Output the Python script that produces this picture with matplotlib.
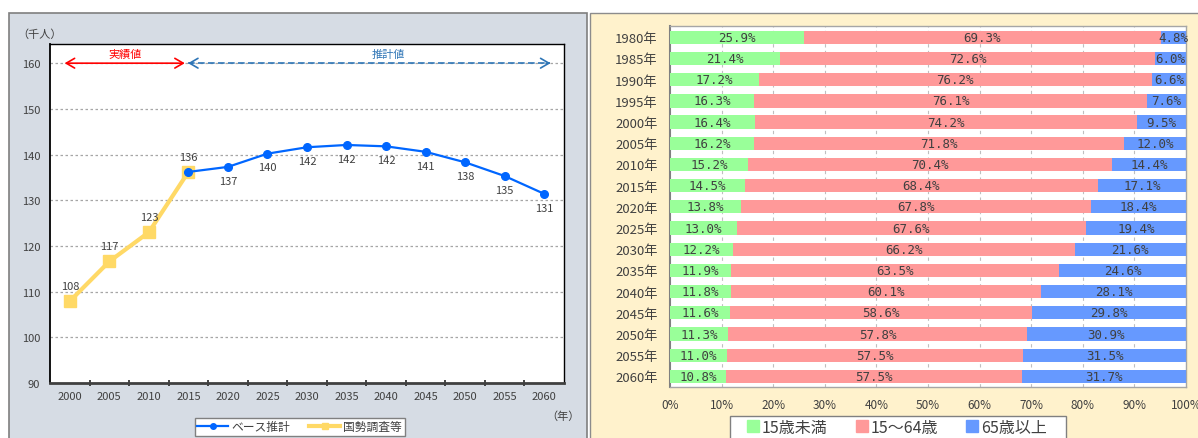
import numpy as np
import matplotlib
matplotlib.use("Agg")
import matplotlib.pyplot as plt
from matplotlib.patches import Rectangle
from matplotlib.lines import Line2D

plt.rcParams['font.family'] = ['Noto Sans CJK JP', 'DejaVu Sans']

# ---- data: left chart ----
years = ['2000', '2005', '2010', '2015', '2020', '2025', '2030', '2035', '2040',
         '2045', '2050', '2055', '2060']
base = [np.nan, np.nan, np.nan, 136.2, 137.3, 140.2, 141.6, 142.1, 141.8, 140.6,
        138.3, 135.3, 131.4]
census = [107.9, 116.6, 123.0, 136.2, np.nan, np.nan, np.nan, np.nan, np.nan,
          np.nan, np.nan, np.nan, np.nan]
yticks_left = [90, 100, 110, 120, 130, 140, 150, 160]

# ---- data: right chart ----
years_r = ['1980年', '1985年', '1990年', '1995年', '2000年', '2005年', '2010年', '2015年',
           '2020年', '2025年', '2030年', '2035年', '2040年', '2045年', '2050年', '2055年', '2060年']
under15 = [25.9, 21.4, 17.2, 16.3, 16.4, 16.2, 15.2, 14.5, 13.8, 13.0, 12.2, 11.9,
           11.8, 11.6, 11.3, 11.0, 10.8]
working = [69.3, 72.6, 76.2, 76.1, 74.2, 71.8, 70.4, 68.4, 67.8, 67.6, 66.2, 63.5,
           60.1, 58.6, 57.8, 57.5, 57.5]
elderly = [4.8, 6.0, 6.6, 7.6, 9.5, 12.0, 14.4, 17.1, 18.4, 19.4, 21.6, 24.6,
           28.1, 29.8, 30.9, 31.5, 31.7]
series_names = ['15歳未満', '15～64歳', '65歳以上']
series_colors = ['#99FF99', '#FF9999', '#6699FF']

W, H = 1198, 439
fig = plt.figure(figsize=(W / 100, H / 100), dpi=100)
fig.patch.set_facecolor('white')


def fx(px):
    return px / W


def fy(py):
    return 1 - py / H


# panel backgrounds
fig.patches.append(Rectangle((fx(9), fy(460)), fx(587) - fx(9), fy(14) - fy(460),
                             transform=fig.transFigure, facecolor='#D6DCE4',
                             edgecolor='#7F7F7F', lw=1.2, zorder=-5))
fig.patches.append(Rectangle((fx(590), fy(460)), fx(1220) - fx(590), fy(14) - fy(460),
                             transform=fig.transFigure, facecolor='#FFF2CC',
                             edgecolor='#8C8C8C', lw=1.0, zorder=-5))
# right legend frame
fig.patches.append(Rectangle((fx(730), fy(450)), fx(1066) - fx(730), fy(417) - fy(450),
                             transform=fig.transFigure, facecolor='white',
                             edgecolor='#808080', lw=1.0, zorder=-4))

# ================= left chart =================
ax = fig.add_axes([fx(50), fy(384), fx(564) - fx(50), fy(45) - fy(384)])
ax.set_facecolor('white')
x = np.arange(len(years))
ax.set_xlim(-0.5, len(years) - 0.5)
ax.set_ylim(90, 164.2)
for v in yticks_left[1:]:
    ax.axhline(v, color='#A6A6A6', lw=0.9, ls=(0, (2, 2)), zorder=1)

base_arr = np.array(base)
cen_arr = np.array(census)
ax.plot(x, cen_arr, color='#FFD966', lw=3, marker='s', ms=8, zorder=3)
ax.plot(x, base_arr, color='#0066FF', lw=1.6, marker='o', ms=5.5, zorder=4)

txtc = '#404040'
fs = 8
for i, v in enumerate(census):
    if not np.isnan(v) and i < 3:
        ax.text(i, v + 2.2, f"{round(v):d}", ha='center', va='bottom', fontsize=fs, color=txtc)
for i, v in enumerate(base):
    if np.isnan(v):
        continue
    if i == 3:
        ax.text(i, v + 2.2, f"{round(v):d}", ha='center', va='bottom', fontsize=fs, color=txtc)
    else:
        ax.text(i, v - 1.9, f"{round(v):d}", ha='center', va='top', fontsize=fs, color=txtc)

ax.set_yticks(yticks_left)
ax.set_yticklabels([str(v) for v in yticks_left], fontsize=fs, color=txtc)
ax.tick_params(axis='y', length=0, pad=7)
ax.set_xticks(x)
ax.set_xticklabels(years, fontsize=fs, color=txtc)
ax.tick_params(axis='x', which='major', length=0, pad=6)
ax.set_xticks(np.arange(0.5, len(years) - 0.5, 1), minor=True)
ax.tick_params(axis='x', which='minor', length=5, width=1.2, direction='inout', color='#262626')
for s in ['top', 'right', 'left']:
    ax.spines[s].set_color('black')
    ax.spines[s].set_linewidth(1.0)
ax.spines['left'].set_linewidth(1.3)
ax.spines['bottom'].set_color('#404040')
ax.spines['bottom'].set_linewidth(2.0)

# arrows
red = '#FF0000'
blue_a = '#2E75B6'
ax.annotate('', xy=(-0.13, 160), xytext=(2.91, 160),
            arrowprops=dict(arrowstyle='<->,head_length=0.6,head_width=0.35', color=red, lw=1.2,
                            shrinkA=0, shrinkB=0), zorder=5)
ax.text(1.4, 162.0, '実績値', color=red, fontsize=fs, ha='center', va='center')
ax.plot([3.0, 12.15], [160, 160], color=blue_a, lw=1.2, ls=(0, (4, 2)), zorder=5)
ax.annotate('', xy=(2.99, 160), xytext=(3.1, 160),
            arrowprops=dict(arrowstyle='->,head_length=0.6,head_width=0.35', color=blue_a, lw=1.2,
                            shrinkA=0, shrinkB=0), zorder=5)
ax.annotate('', xy=(12.16, 160), xytext=(12.05, 160),
            arrowprops=dict(arrowstyle='->,head_length=0.6,head_width=0.35', color=blue_a, lw=1.2,
                            shrinkA=0, shrinkB=0), zorder=5)
ax.text(8.05, 162.0, '推計値', color=blue_a, fontsize=fs, ha='center', va='center')

fig.text(fx(40), fy(35), '（千人）', fontsize=fs, color=txtc, ha='center', va='center')
fig.text(fx(563), fy(417), '（年）', fontsize=fs, color=txtc, ha='center', va='center')

handles = [Line2D([], [], color='#0066FF', lw=1.6, marker='o', ms=4),
           Line2D([], [], color='#FFD966', lw=3, marker='s', ms=5)]
leg = fig.legend(handles, ['ベース推計', '国勢調査等'], loc='upper left',
                 bbox_to_anchor=(fx(195), fy(419)), borderaxespad=0, ncol=2, fontsize=8.5,
                 frameon=True, fancybox=False, edgecolor='#808080', framealpha=1,
                 handlelength=2.6, handletextpad=0.3, columnspacing=1.6,
                 borderpad=0.2, labelcolor=txtc)
leg.get_frame().set_linewidth(1.0)

# ================= right chart =================
ax2 = fig.add_axes([fx(670), fy(388), fx(1186) - fx(670), fy(27) - fy(388)])
ax2.set_facecolor('white')
yy = np.arange(len(years_r))
u = np.array(under15)
w = np.array(working)
e = np.array(elderly)
lefts = [np.zeros_like(u), u, u + w]
vals = [u, w, e]
for k in range(3):
    ax2.barh(yy, vals[k], left=lefts[k], height=0.63, color=series_colors[k],
             edgecolor='none', zorder=3, label=series_names[k])
    for i in range(len(yy)):
        cx = lefts[k][i] + vals[k][i] / 2
        if k == 2:
            cx = min(cx, 100 - vals[k][i] / 2)
        ax2.text(cx, yy[i], f"{vals[k][i]:.1f}%", ha='center', va='center',
                 fontsize=9, color='#404040', family='DejaVu Sans Mono', zorder=4)
ax2.set_xlim(0, 100)
ax2.set_ylim(len(yy) - 0.5, -0.53)
ax2.set_xticks(np.arange(0, 101, 10))
ax2.set_xticklabels([f"{v}%" for v in range(0, 101, 10)], fontsize=8.5, color='#404040')
ax2.tick_params(axis='x', length=0, pad=8)
ax2.set_yticks(yy)
ax2.set_yticklabels(years_r, fontsize=9.5, color='#404040')
ax2.tick_params(axis='y', length=0, pad=9)
for v in range(10, 100, 10):
    ax2.axvline(v, color='#BFBFBF', lw=0.8, ls=(0, (3, 3)), zorder=1)
for s in ['top', 'right', 'bottom']:
    ax2.spines[s].set_color('#A6A6A6')
    ax2.spines[s].set_linewidth(1.0)
ax2.spines['left'].set_color('#808080')
ax2.spines['left'].set_linewidth(1.5)

h2 = [Line2D([], [], ls='none', marker='s', ms=9, color=c) for c in series_colors]
leg2 = fig.legend(h2, series_names, loc='upper left', bbox_to_anchor=(fx(745), fy(418)),
                  borderaxespad=0, ncol=3, fontsize=11.5, frameon=False,
                  handlelength=0.8, handletextpad=0.15,
                  columnspacing=1.75, borderpad=0.1, labelcolor='#404040')

fig.savefig('out.png', dpi=100, facecolor='white')
